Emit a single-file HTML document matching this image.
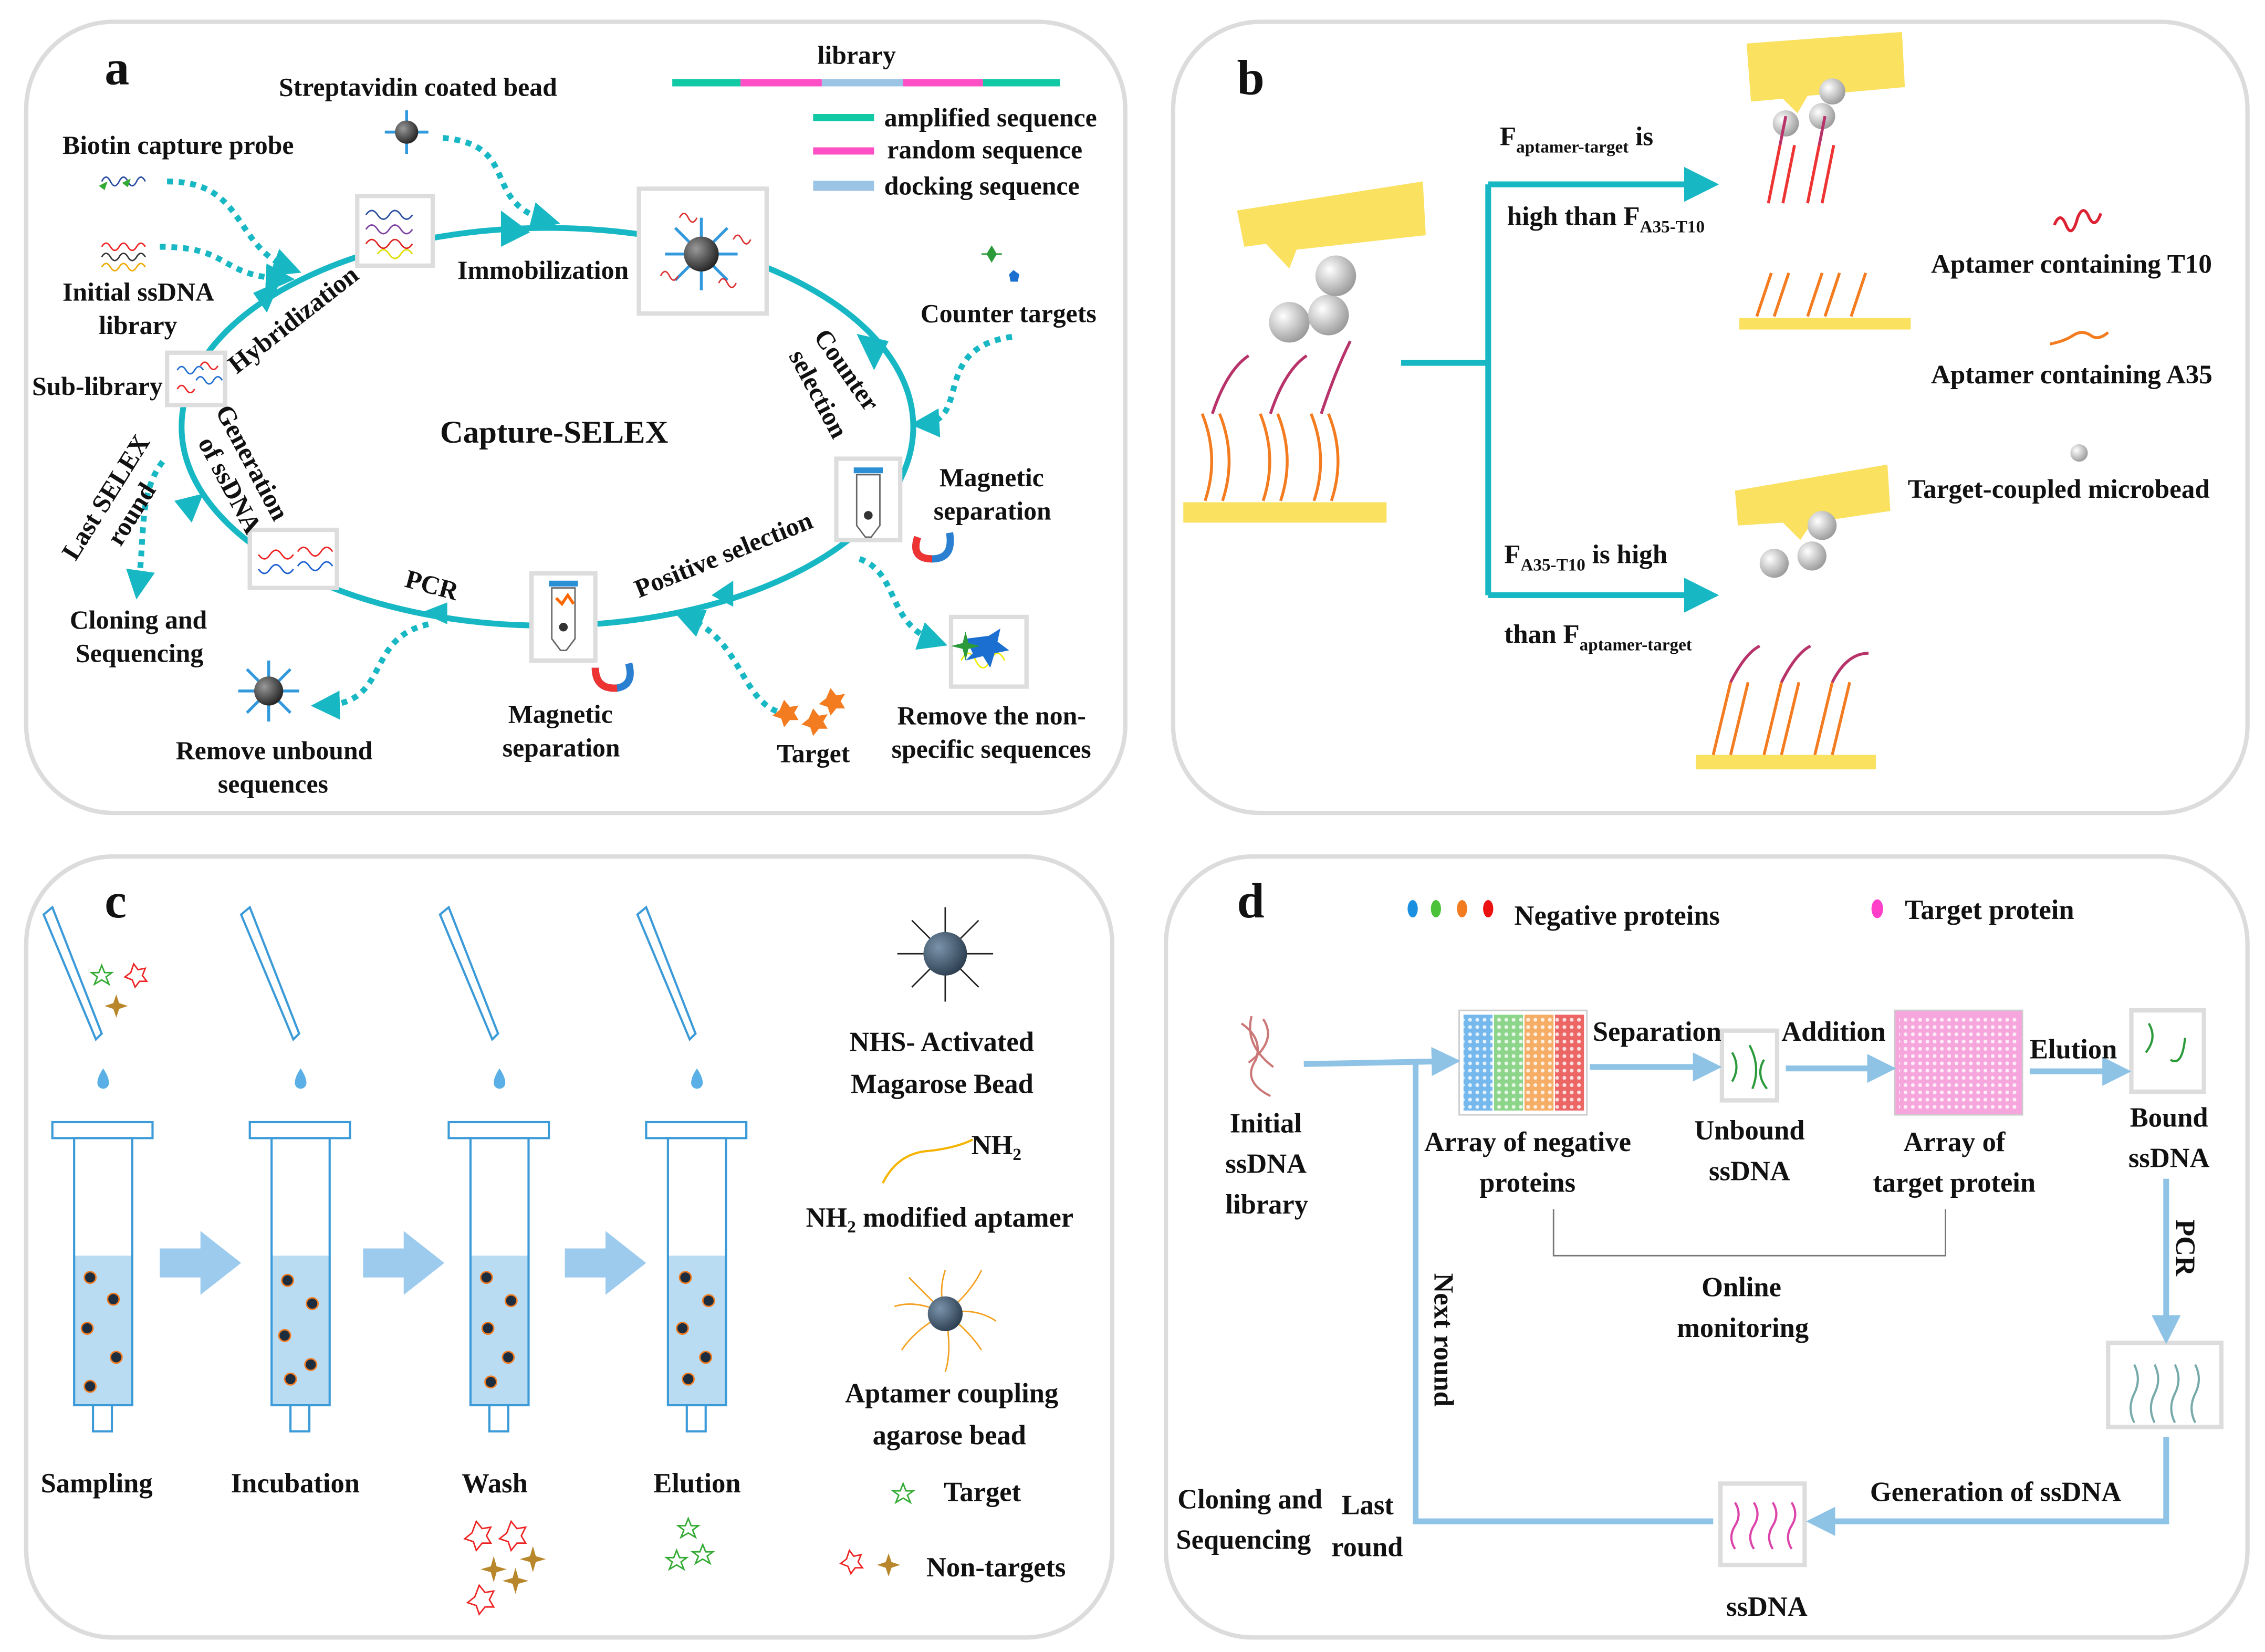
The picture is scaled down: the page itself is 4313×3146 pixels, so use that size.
<!DOCTYPE html>
<html><head><meta charset="utf-8"><style>
html,body{margin:0;padding:0;background:#fff;}
svg{display:block;}
text{font-family:"Liberation Serif",serif;font-weight:bold;fill:#111;}
text[font-size="16"]{font-size:18px;}
text[font-size="17"]{font-size:18.5px;}
text[font-size="18"]{font-size:19px;}
</style></head><body>
<svg width="4313" height="3146" viewBox="0 0 1560 1138" xmlns="http://www.w3.org/2000/svg">
<defs>
<marker id="ta" markerWidth="6" markerHeight="6" refX="3" refY="3" orient="auto"><path d="M0,0L6,3L0,6Z" fill="#17b8c4"/></marker>
<marker id="ba" markerWidth="5" markerHeight="5" refX="3" refY="2.5" orient="auto"><path d="M0,0L5,2.5L0,5Z" fill="#8ec3e6"/></marker>
<marker id="ca" markerWidth="5" markerHeight="5" refX="3" refY="2.5" orient="auto"><path d="M0,0L5,2.5L0,5Z" fill="#17b8c4"/></marker>
<radialGradient id="bead" cx="0.35" cy="0.35" r="0.7"><stop offset="0" stop-color="#999"/><stop offset="1" stop-color="#222"/></radialGradient>
<radialGradient id="bead2" cx="0.35" cy="0.35" r="0.7"><stop offset="0" stop-color="#7a93aa"/><stop offset="1" stop-color="#2c3e50"/></radialGradient>
<radialGradient id="mb" cx="0.35" cy="0.35" r="0.7"><stop offset="0" stop-color="#fff"/><stop offset="1" stop-color="#999"/></radialGradient>
<pattern id="dots" width="5" height="5" patternUnits="userSpaceOnUse"><circle cx="2.5" cy="2.5" r="1.3" fill="#fff" opacity="0.8"/></pattern>
</defs>
<rect width="1560" height="1138" fill="#fff"/>
<g fill="#fff" stroke="#dcdcdc" stroke-width="3">
<rect x="18" y="15" width="757" height="545" rx="60"/>
<rect x="808" y="15" width="740" height="545" rx="60"/>
<rect x="18" y="590" width="748" height="538" rx="60"/>
<rect x="803" y="590" width="745" height="538" rx="60"/>
</g>

<!-- ===== Panel a ===== -->
<text x="72" y="58" font-size="34">a</text>
<text x="192" y="66" font-size="16">Streptavidin coated bead</text>
<text x="43" y="106" font-size="16">Biotin capture probe</text>
<text x="563" y="44" font-size="16">library</text>
<g stroke-width="5">
<line x1="463" y1="57" x2="510" y2="57" stroke="#12c9a6"/>
<line x1="510" y1="57" x2="566" y2="57" stroke="#ff4fc4"/>
<line x1="566" y1="57" x2="622" y2="57" stroke="#9cc4e4"/>
<line x1="622" y1="57" x2="677" y2="57" stroke="#ff4fc4"/>
<line x1="677" y1="57" x2="730" y2="57" stroke="#12c9a6"/>
<line x1="560" y1="81" x2="602" y2="81" stroke="#12c9a6"/>
<line x1="560" y1="104" x2="602" y2="104" stroke="#ff4fc4"/>
<line x1="560" y1="128" x2="602" y2="128" stroke="#9cc4e4" stroke-width="7"/>
</g>
<text x="609" y="87" font-size="16">amplified sequence</text>
<text x="611" y="109" font-size="16">random sequence</text>
<text x="609" y="134" font-size="16">docking sequence</text>
<ellipse cx="377" cy="294" rx="252" ry="137" fill="none" stroke="#17b8c4" stroke-width="4"/>
<g fill="#17b8c4">
<path d="M345,145 L365,160 L345,170Z"/>
<path d="M175,200 L195,195 L182,215Z" transform="rotate(-10 185 205)"/>
<path d="M590,230 L612,235 L602,255Z"/>
<path d="M505,400 L490,410 L505,418Z"/>
<path d="M308,415 L290,422 L308,430Z"/>
<path d="M120,345 L140,340 L132,360Z"/>
</g>
<g fill="#fff" stroke="#ddd" stroke-width="3">
<rect x="246" y="135" width="52" height="48"/>
<rect x="440" y="130" width="88" height="86"/>
<rect x="576" y="316" width="44" height="56"/>
<rect x="366" y="395" width="44" height="60"/>
<rect x="172" y="365" width="60" height="40"/>
<rect x="115" y="243" width="40" height="36"/>
<rect x="655" y="425" width="52" height="48"/>
</g>
<g fill="none" stroke-width="1">
<path d="M252,148 q4,-6 8,0 q4,6 8,0 q4,-6 8,0 q4,6 8,0" stroke="#2a4fa0"/>
<path d="M252,158 q4,-6 8,0 q4,6 8,0 q4,-6 8,0 q4,6 8,0" stroke="#7b3fa0"/>
<path d="M252,168 q4,-6 8,0 q4,6 8,0 q4,-6 8,0 q4,6 8,0" stroke="#d22"/>
<path d="M260,175 q4,-6 8,0 q4,6 8,0 q4,-6 8,0" stroke="#dd0"/>
<path d="M122,255 q3,-5 6,0 q3,5 6,0 q3,-5 6,0 M135,262 q3,-5 6,0 q3,5 6,0 q3,-5 6,0" stroke="#1c6cd0"/>
<path d="M122,268 q3,-5 6,0 q3,5 6,0 M138,252 q3,-5 6,0 q3,5 6,0" stroke="#e22"/>
<path d="M178,382 q4,6 8,0 q4,-6 8,0 q4,6 8,0 M205,380 q4,-6 8,0 q4,6 8,0 q4,-6 8,0" stroke="#e22"/>
<path d="M178,392 q4,6 8,0 q4,-6 8,0 q4,6 8,0 M205,390 q4,-6 8,0 q4,6 8,0 q4,-6 8,0" stroke="#1c5fd0"/>
<path d="M662,455 q5,-10 10,0 q5,10 10,0 q5,-10 10,0" stroke="#ee0"/>
</g>
<g stroke="#3399dd" stroke-width="2">
<line x1="483" y1="150" x2="483" y2="200"/><line x1="458" y1="175" x2="508" y2="175"/>
<line x1="465" y1="157" x2="501" y2="193"/><line x1="501" y1="157" x2="465" y2="193"/>
</g>
<circle cx="483" cy="175" r="12" fill="url(#bead)"/>
<path d="M468,150 q3,-6 6,0 q3,6 6,0 M495,195 q3,-6 6,0 q3,6 6,0 M455,190 q3,-6 6,0 q3,6 6,0 M505,165 q3,-6 6,0 q3,6 6,0" stroke="#d33" fill="none"/>
<path d="M665,440 l5,10 l-5,5 l12,-3 l5,8 l3,-10 l10,-2 l-8,-6 l2,-9 l-8,5z" fill="#1b6fd0"/>
<path d="M655,445 l8,-2 l2,-8 l2,8 l8,2 l-8,2 l-2,8 l-2,-8z" fill="#2a9a3a"/>
<g>
<rect x="588" y="322" width="20" height="4" fill="#2b8fd6"/>
<path d="M590,327 L606,327 L606,362 L600,370 L596,370 L590,362Z" fill="#fff" stroke="#666"/>
<rect x="378" y="400" width="20" height="4" fill="#2b8fd6"/>
<path d="M380,405 L396,405 L396,440 L390,448 L386,448 L380,440Z" fill="#fff" stroke="#666"/>
<circle cx="388" cy="432" r="3" fill="#333"/><circle cx="598" cy="355" r="3" fill="#333"/>
<path d="M383,412 l4,4 l4,-6 l4,6" stroke="#f60" fill="none" stroke-width="2"/>
</g>
<path d="M632,370 q-5,15 10,15 q15,0 12,-18" fill="none" stroke="#2b7fd0" stroke-width="5"/>
<path d="M632,370 q-5,15 10,15" fill="none" stroke="#e33" stroke-width="5"/>
<path d="M410,460 q0,15 15,14 q12,-2 8,-17" fill="none" stroke="#2b7fd0" stroke-width="5"/>
<path d="M410,460 q0,15 15,14" fill="none" stroke="#e33" stroke-width="5"/>
<g stroke="#3399dd" stroke-width="2"><line x1="280" y1="76" x2="280" y2="106"/><line x1="265" y1="91" x2="295" y2="91"/></g>
<circle cx="280" cy="91" r="8" fill="url(#bead)"/>
<g stroke="#3399dd" stroke-width="2"><line x1="185" y1="455" x2="185" y2="497"/><line x1="164" y1="476" x2="206" y2="476"/><line x1="170" y1="461" x2="200" y2="491"/><line x1="200" y1="461" x2="170" y2="491"/></g>
<circle cx="185" cy="476" r="10" fill="url(#bead)"/>
<path d="M70,125 q3,-6 6,0 q3,6 6,0 q3,-6 6,0 q3,6 6,0 q3,-6 6,0" stroke="#2a4fa0" fill="none"/>
<path d="M68,128 l6,-3 l-2,6z M84,126 l6,-3 l-2,6z" fill="#3a3"/>
<path d="M70,170 q3,-5 6,0 q3,5 6,0 q3,-5 6,0 q3,5 6,0 q3,-5 6,0" stroke="#e22" fill="none"/>
<path d="M70,177 q3,-5 6,0 q3,5 6,0 q3,-5 6,0 q3,5 6,0 q3,-5 6,0" stroke="#333" fill="none"/>
<path d="M70,184 q3,-5 6,0 q3,5 6,0 q3,-5 6,0 q3,5 6,0 q3,-5 6,0" stroke="#ea0" fill="none"/>
<path d="M683,170 l3,5 l-3,5 l-3,-5z M676,175 h14" stroke="#2a9a3a" fill="#2a9a3a"/>
<path d="M698,186 l4,3 l-1,5 l-5,0 l-1,-5z" fill="#1b6fd0"/>
<g fill="#f47c20"><path d="M540,482 l4,5 l6,-1 l-3,5 l3,5 l-6,0 l-4,5 l-2,-6 l-6,-2 l5,-4z"/><path d="M572,474 l4,5 l6,-1 l-3,5 l3,5 l-6,0 l-4,5 l-2,-6 l-6,-2 l5,-4z"/><path d="M560,488 l4,5 l6,-1 l-3,5 l3,5 l-6,0 l-4,5 l-2,-6 l-6,-2 l5,-4z"/></g>
<g fill="none" stroke="#17b8c4" stroke-width="4" stroke-dasharray="4 4" marker-end="url(#ca)">
<path d="M305,95 C360,100 330,140 378,152"/>
<path d="M115,125 C170,125 160,170 200,185"/>
<path d="M110,170 C160,170 150,190 195,192"/>
<path d="M697,232 C640,240 670,290 635,292"/>
<path d="M592,385 C620,395 610,430 645,442"/>
<path d="M535,490 C510,480 510,440 472,425"/>
<path d="M295,430 C250,440 270,485 222,486"/>
<path d="M112,318 C95,340 100,370 95,405"/>
</g>
<text x="315" y="192" font-size="16">Immobilization</text>
<text x="634" y="222" font-size="16">Counter targets</text>
<text x="43" y="207" font-size="16">Initial ssDNA</text>
<text x="68" y="230" font-size="16">library</text>
<text x="22" y="272" font-size="16">Sub-library</text>
<text x="303" y="305" font-size="22">Capture-SELEX</text>
<text x="647" y="335" font-size="16">Magnetic</text>
<text x="643" y="358" font-size="16">separation</text>
<text x="48" y="433" font-size="16">Cloning and</text>
<text x="52" y="456" font-size="16">Sequencing</text>
<text x="350" y="498" font-size="16">Magnetic</text>
<text x="346" y="521" font-size="16">separation</text>
<text x="535" y="525" font-size="16">Target</text>
<text x="618" y="499" font-size="16">Remove the non-</text>
<text x="614" y="522" font-size="16">specific sequences</text>
<text x="121" y="523" font-size="16">Remove unbound</text>
<text x="150" y="546" font-size="16">sequences</text>
<text x="278" y="404" font-size="16" transform="rotate(15 278 404)">PCR</text>
<text x="440" y="412" font-size="16" transform="rotate(-22 440 412)">Positive selection</text>
<text x="163" y="258" font-size="16" transform="rotate(-38 163 258)">Hybridization</text>
<text x="560" y="232" font-size="16" transform="rotate(55 560 232)">Counter</text>
<text x="543" y="245" font-size="16" transform="rotate(62 543 245)">selection</text>
<text x="148" y="283" font-size="16" transform="rotate(62 148 283)">Generation</text>
<text x="136" y="305" font-size="16" transform="rotate(62 136 305)">of ssDNA</text>
<text x="52" y="387" font-size="16" transform="rotate(-58 52 387)">Last SELEX</text>
<text x="83" y="377" font-size="16" transform="rotate(-58 83 377)">round</text>

<!-- ===== Panel b ===== -->
<text x="852" y="65" font-size="34">b</text>
<g fill="#fbe160">
<path d="M852,145 L980,125 L982,162 L893,172 L888,185 L872,168 L857,170Z"/>
<path d="M1203,30 L1310,22 L1312,60 L1245,66 L1238,78 L1228,68 L1206,70Z"/>
<path d="M1195,338 L1300,320 L1302,352 L1248,360 L1240,372 L1228,360 L1197,362Z"/>
<rect x="815" y="346" width="140" height="14"/>
<rect x="1198" y="219" width="118" height="8"/>
<rect x="1168" y="520" width="124" height="10"/>
</g>
<circle cx="888" cy="222" r="14" fill="url(#mb)"/><circle cx="915" cy="217" r="14" fill="url(#mb)"/><circle cx="920" cy="190" r="14" fill="url(#mb)"/>
<circle cx="1230" cy="85" r="9" fill="url(#mb)"/><circle cx="1255" cy="80" r="9" fill="url(#mb)"/><circle cx="1262" cy="63" r="9" fill="url(#mb)"/>
<circle cx="1222" cy="388" r="10" fill="url(#mb)"/><circle cx="1248" cy="383" r="10" fill="url(#mb)"/><circle cx="1255" cy="362" r="10" fill="url(#mb)"/>
<circle cx="1432" cy="312" r="6" fill="url(#mb)"/>
<g fill="none" stroke-width="2">
<path d="M830,345 q10,-30 -2,-60 M842,345 q10,-30 -2,-60 M870,345 q10,-30 -2,-60 M882,345 q10,-30 -2,-60 M905,345 q10,-30 -2,-60 M917,345 q10,-30 -2,-60" stroke="#f47c20"/>
<path d="M835,285 q10,-30 25,-40 M875,285 q10,-30 25,-40 M910,285 q10,-30 20,-50" stroke="#b8336a"/>
<path d="M1210,218 l10,-30 M1222,218 l10,-30 M1245,218 l10,-30 M1257,218 l10,-30 M1275,218 l10,-30" stroke="#f47c20"/>
<path d="M1180,520 l12,-50 M1192,520 l12,-50 M1215,520 l12,-50 M1227,520 l12,-50 M1250,520 l12,-50 M1262,520 l12,-50" stroke="#f47c20"/>
<path d="M1192,470 q10,-20 20,-25 M1227,470 q10,-20 20,-25 M1262,470 q10,-20 25,-20" stroke="#b8336a"/>
<path d="M1218,140 l8,-40 M1228,140 l8,-40 M1245,140 l8,-40 M1255,140 l8,-40" stroke="#e33"/>
<path d="M1226,100 l4,-20 M1253,100 l4,-20" stroke="#b8336a"/>
<path d="M1415,155 q4,-10 8,0 q4,10 8,-5 q4,-10 8,0 q4,8 8,-3" stroke="#d23"/>
<path d="M1412,237 q10,-2 16,-6 q6,-4 12,0 q5,4 12,-2" stroke="#f47c20"/>
</g>
<g stroke="#17b8c4" stroke-width="4" fill="none">
<path d="M965,250 H1025"/>
<path d="M1025,127 V410"/>
<path d="M1025,127 H1172" marker-end="url(#ta)"/>
<path d="M1025,410 H1172" marker-end="url(#ta)"/>
</g>
<text x="1033" y="100" font-size="17">F<tspan font-size="12" dy="5">aptamer-target</tspan><tspan dy="-5"> is</tspan></text>
<text x="1038" y="155" font-size="17">high than F<tspan font-size="12" dy="5">A35-T10</tspan></text>
<text x="1036" y="388" font-size="17">F<tspan font-size="12" dy="5">A35-T10</tspan><tspan dy="-5"> is high</tspan></text>
<text x="1036" y="443" font-size="17">than F<tspan font-size="12" dy="5">aptamer-target</tspan></text>
<text x="1330" y="188" font-size="17">Aptamer containing T10</text>
<text x="1330" y="264" font-size="17">Aptamer containing A35</text>
<text x="1314" y="343" font-size="17">Target-coupled microbead</text>

<!-- ===== Panel c ===== -->
<text x="72" y="632" font-size="34">c</text>
<g id="col">
<rect x="36" y="773" width="69" height="11" fill="#fff" stroke="#3b9ad8" stroke-width="1.5"/>
<rect x="51" y="865" width="40" height="103" fill="#b9dcf3"/>
<rect x="51" y="784" width="40" height="184" fill="none" stroke="#3b9ad8" stroke-width="1.5"/>
<rect x="64" y="968" width="13" height="18" fill="#fff" stroke="#3b9ad8" stroke-width="1.5"/>
<path d="M71,736 q-4,6 -4,10 a4,4 0 0 0 8,0 q0,-4 -4,-10z" fill="#5ab0e6"/>
<path d="M30,630 L36,625 L70,712 L66,716Z" fill="#fff" stroke="#3b9ad8" stroke-width="1.5"/>
</g>
<use href="#col" x="136"/><use href="#col" x="273"/><use href="#col" x="409"/>
<g fill="#1e2d3d" stroke="#f47c20" stroke-width="1">
<circle cx="62" cy="880" r="4"/><circle cx="78" cy="895" r="4"/><circle cx="60" cy="915" r="4"/><circle cx="80" cy="935" r="4"/><circle cx="62" cy="955" r="4"/>
<circle cx="198" cy="882" r="4"/><circle cx="215" cy="898" r="4"/><circle cx="196" cy="920" r="4"/><circle cx="214" cy="940" r="4"/><circle cx="200" cy="950" r="4"/>
<circle cx="335" cy="880" r="4"/><circle cx="352" cy="896" r="4"/><circle cx="336" cy="915" r="4"/><circle cx="350" cy="935" r="4"/><circle cx="338" cy="952" r="4"/>
<circle cx="472" cy="880" r="4"/><circle cx="488" cy="896" r="4"/><circle cx="470" cy="915" r="4"/><circle cx="486" cy="935" r="4"/><circle cx="474" cy="950" r="4"/>
</g>
<g fill="#9ccbee">
<path d="M110,860 h28 v-12 l28,22 l-28,22 v-12 h-28z"/>
<path d="M250,860 h28 v-12 l28,22 l-28,22 v-12 h-28z"/>
<path d="M389,860 h28 v-12 l28,22 l-28,22 v-12 h-28z"/>
</g>
<path d="M70,665 l2,5 l5,0 l-4,3 l2,5 l-5,-3 l-5,3 l2,-5 l-4,-3 l5,0z" fill="none" stroke="#3a3"/>
<path d="M92,664 l3,4 l5,-1 l-2,5 l3,4 l-5,0 l-3,4 l-2,-5 l-5,-2 l4,-3z" fill="none" stroke="#e22"/>
<path d="M80,685 l2,6 l6,2 l-6,2 l-2,6 l-2,-6 l-6,-2 l6,-2z" fill="#b8862b"/>
<g fill="none" stroke="#e22"><path d="M328,1048 l4,5 l6,-1 l-3,6 l3,5 l-6,0 l-4,5 l-2,-6 l-6,-2 l5,-4z"/><path d="M352,1048 l4,5 l6,-1 l-3,6 l3,5 l-6,0 l-4,5 l-2,-6 l-6,-2 l5,-4z"/><path d="M330,1092 l4,5 l6,-1 l-3,6 l3,5 l-6,0 l-4,5 l-2,-6 l-6,-2 l5,-4z"/><path d="M585,1068 l3,4 l5,-1 l-2,5 l3,4 l-5,0 l-3,4 l-2,-5 l-5,-2 l4,-3z"/></g>
<g fill="#b8862b"><path d="M340,1072 l2,7 l7,2 l-7,2 l-2,7 l-2,-7 l-7,-2 l7,-2z"/><path d="M367,1065 l2,7 l7,2 l-7,2 l-2,7 l-2,-7 l-7,-2 l7,-2z"/><path d="M355,1080 l2,7 l7,2 l-7,2 l-2,7 l-2,-7 l-7,-2 l7,-2z"/><path d="M612,1070 l2,6 l6,2 l-6,2 l-2,6 l-2,-6 l-6,-2 l6,-2z"/></g>
<g fill="none" stroke="#3a3"><path d="M474,1046 l2,5 l5,0 l-4,3 l2,5 l-5,-3 l-5,3 l2,-5 l-4,-3 l5,0z"/><path d="M466,1068 l2,5 l5,0 l-4,3 l2,5 l-5,-3 l-5,3 l2,-5 l-4,-3 l5,0z"/><path d="M484,1064 l2,5 l5,0 l-4,3 l2,5 l-5,-3 l-5,3 l2,-5 l-4,-3 l5,0z"/><path d="M622,1022 l2,5 l5,0 l-4,3 l2,5 l-5,-3 l-5,3 l2,-5 l-4,-3 l5,0z"/></g>
<text x="28" y="1028" font-size="18">Sampling</text>
<text x="159" y="1028" font-size="18">Incubation</text>
<text x="318" y="1028" font-size="18">Wash</text>
<text x="450" y="1028" font-size="18">Elution</text>
<g stroke="#222" stroke-width="1"><line x1="651" y1="625" x2="651" y2="690"/><line x1="618" y1="657" x2="684" y2="657"/><line x1="628" y1="634" x2="674" y2="680"/><line x1="674" y1="634" x2="628" y2="680"/></g>
<circle cx="651" cy="657" r="15" fill="url(#bead2)"/>
<text x="585" y="724" font-size="18">NHS- Activated</text>
<text x="586" y="753" font-size="18">Magarose Bead</text>
<path d="M608,815 q10,-20 30,-22 q20,-2 32,-8" fill="none" stroke="#f4b400" stroke-width="1.5"/>
<text x="669" y="795" font-size="18">NH<tspan font-size="12" dy="4">2</tspan></text>
<text x="555" y="845" font-size="18">NH<tspan font-size="12" dy="4">2</tspan><tspan dy="-4"> modified aptamer</tspan></text>
<g stroke="#f4a020" stroke-width="1" fill="none"><path d="M651,905 q-5,-15 0,-30 M651,905 q5,25 0,40 M651,905 q-20,-10 -35,-5 M651,905 q20,-5 35,5 M651,905 q-20,10 -30,25 M651,905 q15,10 25,25 M651,905 q-15,-15 -25,-25 M651,905 q18,-15 25,-30"/></g>
<circle cx="651" cy="905" r="12" fill="url(#bead2)"/>
<text x="582" y="966" font-size="18">Aptamer coupling</text>
<text x="601" y="995" font-size="18">agarose bead</text>
<text x="650" y="1034" font-size="18">Target</text>
<text x="638" y="1086" font-size="18">Non-targets</text>

<!-- ===== Panel d ===== -->
<text x="852" y="632" font-size="34">d</text>
<ellipse cx="973" cy="626" rx="3.5" ry="6" fill="#1b8fe0"/><ellipse cx="989" cy="626" rx="3.5" ry="6" fill="#4cc23a"/><ellipse cx="1007" cy="626" rx="3.5" ry="6" fill="#f47c20"/><ellipse cx="1025" cy="626" rx="3.5" ry="6" fill="#e11"/>
<text x="1043" y="637" font-size="18">Negative proteins</text>
<ellipse cx="1293" cy="626" rx="4" ry="6.5" fill="#ff3fc8"/>
<text x="1312" y="633" font-size="18">Target protein</text>
<g>
<rect x="1005" y="696" width="88" height="72" fill="#fff" stroke="#ccc"/>
<rect x="1008" y="699" width="20" height="66" fill="#3a9ae6" opacity="0.7"/>
<rect x="1029" y="699" width="20" height="66" fill="#5cc35a" opacity="0.7"/>
<rect x="1050" y="699" width="20" height="66" fill="#f49a40" opacity="0.8"/>
<rect x="1071" y="699" width="20" height="66" fill="#e84040" opacity="0.8"/>
<rect x="1008" y="699" width="83" height="66" fill="url(#dots)"/>
<rect x="1305" y="696" width="88" height="72" fill="#f6a6dd" stroke="#ccc"/>
<rect x="1308" y="699" width="82" height="66" fill="url(#dots)"/>
</g>
<g fill="#fff" stroke="#ddd" stroke-width="3">
<rect x="1186" y="710" width="38" height="48"/>
<rect x="1468" y="696" width="50" height="56"/>
<rect x="1452" y="925" width="78" height="58"/>
<rect x="1185" y="1022" width="58" height="56"/>
</g>
<g fill="none" stroke-width="1.5">
<path d="M1193,725 q6,10 0,20 M1205,720 q8,15 2,30 M1215,730 q-6,10 2,20" stroke="#2a9a3a"/>
<path d="M1480,705 q6,10 -2,20 M1495,730 q8,5 10,-15" stroke="#2a9a3a"/>
<path d="M1470,940 q5,10 0,20 q-5,10 0,20 M1484,940 q5,10 0,20 q-5,10 0,20 M1498,940 q5,10 0,20 q-5,10 0,20 M1512,940 q5,10 0,20 q-5,10 0,20" stroke="#7aa"/>
<path d="M1195,1035 q5,8 0,16 q-5,8 0,16 M1208,1035 q5,8 0,16 q-5,8 0,16 M1221,1035 q5,8 0,16 q-5,8 0,16 M1234,1035 q5,8 0,16 q-5,8 0,16" stroke="#d4a"/>
<path d="M855,705 q15,10 10,25 q-10,15 10,25 M862,700 q-5,20 15,35 M870,702 q10,15 -10,30" stroke="#c77"/>
</g>
<g stroke="#8ec3e6" stroke-width="4" fill="none">
<path d="M898,733 L998,731" marker-end="url(#ba)"/>
<path d="M1095,735 H1178" marker-end="url(#ba)"/>
<path d="M1230,736 H1298" marker-end="url(#ba)"/>
<path d="M1398,738 H1460" marker-end="url(#ba)"/>
<path d="M1492,812 V918" marker-end="url(#ba)"/>
<path d="M1492,990 V1048 H1252" marker-end="url(#ba)"/>
<path d="M1180,1048 H975 V733" />
</g>
<path d="M1070,833 v32 h270 v-32" fill="none" stroke="#777" stroke-width="1"/>
<text x="847" y="780" font-size="18">Initial</text>
<text x="844" y="808" font-size="18">ssDNA</text>
<text x="844" y="836" font-size="18">library</text>
<text x="1097" y="717" font-size="18">Separation</text>
<text x="1227" y="717" font-size="18">Addition</text>
<text x="1398" y="729" font-size="18">Elution</text>
<text x="981" y="793" font-size="18">Array of negative</text>
<text x="1019" y="821" font-size="18">proteins</text>
<text x="1167" y="785" font-size="18">Unbound</text>
<text x="1177" y="813" font-size="18">ssDNA</text>
<text x="1311" y="793" font-size="18">Array of</text>
<text x="1290" y="821" font-size="18">target protein</text>
<text x="1467" y="776" font-size="18">Bound</text>
<text x="1466" y="804" font-size="18">ssDNA</text>
<text x="1172" y="893" font-size="18">Online</text>
<text x="1155" y="921" font-size="18">monitoring</text>
<text x="1499" y="840" font-size="18" transform="rotate(90 1499 840)">PCR</text>
<text x="988" y="877" font-size="18" transform="rotate(90 988 877)">Next round</text>
<text x="1288" y="1034" font-size="18">Generation of ssDNA</text>
<text x="811" y="1039" font-size="18">Cloning and</text>
<text x="810" y="1067" font-size="18">Sequencing</text>
<text x="924" y="1043" font-size="18">Last</text>
<text x="917" y="1072" font-size="18">round</text>
<text x="1189" y="1113" font-size="18">ssDNA</text>
</svg>
</body></html>
